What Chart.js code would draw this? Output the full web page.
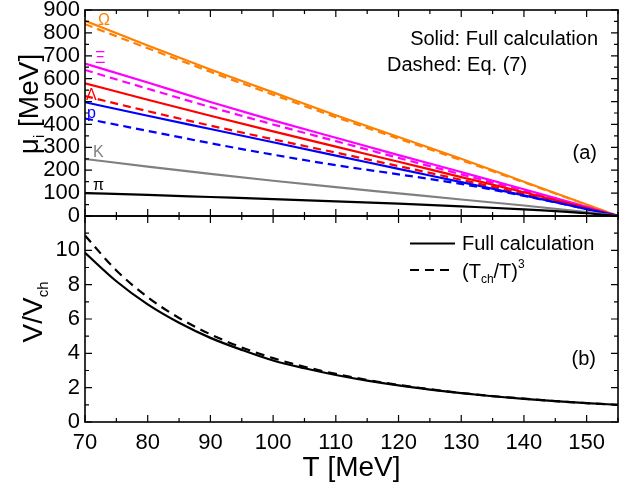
<!DOCTYPE html>
<html>
<head>
<meta charset="utf-8">
<script src="https://cdn.jsdelivr.net/npm/chart.js@4.4.1/dist/chart.umd.min.js"></script>
<style>
html, body { margin: 0; padding: 0; background: #fff; }
#wrap { position: relative; width: 619px; height: 485px; overflow: hidden; }
canvas { position: absolute; left: 0; }
#top { top: 0; }
#bot { top: 215px; }
</style>
</head>
<body>
<div id="wrap">
  <canvas id="top" width="619" height="232" style="width:619px;height:232px"></canvas>
  <canvas id="bot" width="619" height="270" style="width:619px;height:270px"></canvas>
</div>
<script>
// panel (a): chemical potentials
var temps = [70, 80, 90, 100, 110, 120, 130, 140, 150, 155];
var omegaFull = [853, 745, 640, 540, 440, 345, 250, 150, 50, 0];
var omegaEq = [838, 733, 630, 530, 432, 338, 244, 147, 49, 0];
var xiFull = [666, 583, 498, 418, 342, 266, 192, 117, 40, 0];
var xiEq = [638, 556, 476, 400, 327, 254, 182, 111, 38, 0];
var lambdaFull = [580, 508, 438, 370, 303, 237, 170, 104, 35, 0];
var lambdaEq = [524, 458, 395, 335, 277, 218, 158, 97, 33, 0];
var protonFull = [497, 438, 380, 322, 264, 206, 148, 90, 30, 0];
var protonEq = [426, 372, 318, 268, 222, 182, 140, 88, 30, 0];
var kaonFull = [249, 216, 184, 154, 126, 99, 72, 46, 17, 0];
var pionFull = [100, 92, 83, 74, 64, 54, 42, 29, 12, 0];

// panel (b): volume
var tempsV = [70, 75, 80, 85, 90, 95, 100, 105, 110, 115, 120, 125, 130, 135, 140, 145, 150, 155];
var volFull = [9.86, 8.2, 6.85, 5.78, 4.9, 4.2, 3.58, 3.13, 2.74, 2.41, 2.13, 1.89, 1.68, 1.5, 1.35, 1.22, 1.1, 1.0];
var volEq = [10.86, 8.83, 7.27, 6.06, 5.11, 4.34, 3.72, 3.22, 2.80, 2.45, 2.16, 1.91, 1.69, 1.51, 1.36, 1.22, 1.10, 1.00];

var xTicks = [70, 80, 90, 100, 110, 120, 130, 140, 150];
var muTicks = [0, 100, 200, 300, 400, 500, 600, 700, 800, 900];
var volTicks = [0, 2, 4, 6, 8, 10];

var FONT = '"Liberation Sans", Arial, sans-serif';

function pts(xs, ys) {
    return ys.map(function(y, i) { return { x: xs[i], y: y }; });
}

function line(data, color, dashed) {
    return {
        data: data,
        borderColor: color,
        borderWidth: 2.2,
        borderDash: dashed ? [8, 5] : [],
        pointRadius: 0,
        fill: false,
        cubicInterpolationMode: 'monotone'
    };
}

function drawRich(ctx, parts, x, y, align) {
    var w = 0;
    parts.forEach(function(p) {
        ctx.font = p.size + 'px ' + FONT;
        p.w = ctx.measureText(p.t).width;
        w += p.w;
    });
    var cx = align == 'center' ? x - w / 2 : (align == 'right' ? x - w : x);
    parts.forEach(function(p) {
        ctx.font = p.size + 'px ' + FONT;
        ctx.fillText(p.t, cx, y + (p.dy || 0));
        cx += p.w;
    });
}

// box with inward ticks on all four sides
function frame(xMinor, yMinor, yMajor) {
    return {
        id: 'frame',
        afterDraw: function(chart) {
            var ctx = chart.ctx, a = chart.chartArea;
            var xs = chart.scales.x, ys = chart.scales.y;
            ctx.save();
            ctx.strokeStyle = '#000';
            ctx.lineWidth = 1.2;
            ctx.beginPath();
            for (var v = xs.min; v <= xs.max + 0.001; v += xMinor) {
                var px = xs.getPixelForValue(v);
                var len = xTicks.indexOf(v) >= 0 ? 7 : 4;
                ctx.moveTo(px, a.bottom); ctx.lineTo(px, a.bottom - len);
                ctx.moveTo(px, a.top); ctx.lineTo(px, a.top + len);
            }
            for (var u = ys.min; u <= ys.max + 0.001; u += yMinor) {
                var py = ys.getPixelForValue(u);
                var l2 = (Math.abs(u % yMajor) < 0.001) ? 7 : 4;
                ctx.moveTo(a.left, py); ctx.lineTo(a.left + l2, py);
                ctx.moveTo(a.right, py); ctx.lineTo(a.right - l2, py);
            }
            ctx.stroke();
            ctx.lineWidth = 1.6;
            ctx.strokeRect(a.left, a.top, a.right - a.left, a.bottom - a.top);
            ctx.restore();
        }
    };
}

var topTexts = {
    id: 'topTexts',
    afterDraw: function(chart) {
        var ctx = chart.ctx;
        ctx.save();
        ctx.textBaseline = 'alphabetic';
        ctx.fillStyle = '#000';
        ctx.translate(38, 104);
        ctx.rotate(-Math.PI / 2);
        drawRich(ctx, [{ t: 'μ', size: 28 }, { t: 'i', size: 15, dy: 6 }, { t: ' [MeV]', size: 28 }], 0, 0, 'center');
        ctx.restore();

        ctx.save();
        ctx.fillStyle = '#000';
        ctx.font = '20px ' + FONT;
        ctx.textAlign = 'right';
        ctx.fillText('Solid: Full calculation', 598, 45);
        ctx.fillText('(a)', 597, 159);
        ctx.textAlign = 'left';
        ctx.fillText('Dashed: Eq. (7)', 387, 71);
        ctx.font = '16px ' + FONT;
        var labels = [
            ['Ω', '#ff8000', 98, 25],
            ['Ξ', '#ff00ff', 95, 63],
            ['Λ', '#ff0000', 86, 100],
            ['p', '#0000ff', 87, 118],
            ['K', '#808080', 93, 157],
            ['π', '#000000', 93, 190]
        ];
        labels.forEach(function(l) {
            ctx.fillStyle = l[1];
            ctx.fillText(l[0], l[2], l[3]);
        });
        ctx.restore();
    }
};

var botTexts = {
    id: 'botTexts',
    afterDraw: function(chart) {
        var ctx = chart.ctx;
        ctx.save();
        ctx.fillStyle = '#000';
        ctx.textBaseline = 'alphabetic';
        ctx.translate(42, 97);
        ctx.rotate(-Math.PI / 2);
        drawRich(ctx, [{ t: 'V/V', size: 28 }, { t: 'ch', size: 15, dy: 6 }], 0, 0, 'center');
        ctx.restore();

        ctx.save();
        ctx.fillStyle = '#000';
        ctx.font = '28px ' + FONT;
        ctx.textAlign = 'center';
        ctx.fillText('T [MeV]', 351.5, 261);
        ctx.font = '20px ' + FONT;
        ctx.textAlign = 'right';
        ctx.fillText('(b)', 596, 150);
        ctx.textAlign = 'left';
        // legend
        ctx.strokeStyle = '#000';
        ctx.lineWidth = 2.2;
        ctx.beginPath();
        ctx.moveTo(410, 28.5); ctx.lineTo(455, 28.5);
        ctx.stroke();
        ctx.setLineDash([9, 6]);
        ctx.beginPath();
        ctx.moveTo(410, 55); ctx.lineTo(455, 55);
        ctx.stroke();
        ctx.setLineDash([]);
        ctx.fillText('Full calculation', 462, 35);
        drawRich(ctx, [{ t: '(T', size: 20 }, { t: 'ch', size: 12, dy: 5 }, { t: '/T)', size: 20 }, { t: '3', size: 12, dy: -10 }], 462, 63, 'left');
        ctx.restore();
    }
};

var tickFont = { family: FONT, size: 22 };

new Chart(document.getElementById('top').getContext('2d'), {
    type: 'line',
    data: {
        datasets: [
            line(pts(temps, pionFull), '#000000', false),
            line(pts(temps, kaonFull), '#808080', false),
            line(pts(temps, protonEq), '#0000ff', true),
            line(pts(temps, protonFull), '#0000ff', false),
            line(pts(temps, lambdaEq), '#ff0000', true),
            line(pts(temps, lambdaFull), '#ff0000', false),
            line(pts(temps, xiEq), '#ff00ff', true),
            line(pts(temps, xiFull), '#ff00ff', false),
            line(pts(temps, omegaEq), '#ff8000', true),
            line(pts(temps, omegaFull), '#ff8000', false)
        ]
    },
    options: {
        responsive: false,
        animation: false,
        layout: { padding: { top: 10, right: 1, bottom: 16, left: 0 } },
        plugins: { legend: { display: false }, tooltip: { enabled: false } },
        scales: {
            x: { type: 'linear', min: 70, max: 155, display: false },
            y: {
                min: 0, max: 900,
                grid: { display: false, drawTicks: false },
                border: { display: false },
                afterBuildTicks: function(s) { s.ticks = muTicks.map(function(v) { return { value: v }; }); },
                afterFit: function(s) { s.width = 85; s.paddingTop = 0; s.paddingBottom = 0; },
                ticks: { font: tickFont, color: '#000', padding: 5, autoSkip: false }
            }
        }
    },
    plugins: [frame(5, 50, 100), topTexts]
});

new Chart(document.getElementById('bot').getContext('2d'), {
    type: 'line',
    data: {
        datasets: [
            { data: pts(tempsV, volEq), borderColor: '#000', borderWidth: 2.2, borderDash: [9, 6], pointRadius: 0, cubicInterpolationMode: 'monotone' },
            { data: pts(tempsV, volFull), borderColor: '#000', borderWidth: 2.2, pointRadius: 0, cubicInterpolationMode: 'monotone' }
        ]
    },
    options: {
        responsive: false,
        animation: false,
        layout: { padding: { top: 1, right: 1, bottom: 0, left: 0 } },
        plugins: { legend: { display: false }, tooltip: { enabled: false } },
        scales: {
            x: {
                type: 'linear', min: 70, max: 155,
                grid: { display: false, drawTicks: false },
                border: { display: false },
                afterBuildTicks: function(s) { s.ticks = xTicks.map(function(v) { return { value: v }; }); },
                afterFit: function(s) { s.height = 63; s.paddingLeft = 0; s.paddingRight = 0; },
                ticks: { font: tickFont, color: '#000', padding: 8, maxRotation: 0, autoSkip: false }
            },
            y: {
                min: 0, max: 12,
                grid: { display: false, drawTicks: false },
                border: { display: false },
                afterBuildTicks: function(s) { s.ticks = volTicks.map(function(v) { return { value: v }; }); },
                afterFit: function(s) { s.width = 85; s.paddingTop = 0; s.paddingBottom = 0; },
                ticks: { font: tickFont, color: '#000', padding: 5, autoSkip: false }
            }
        }
    },
    plugins: [frame(5, 1, 2), botTexts]
});
</script>
</body>
</html>
